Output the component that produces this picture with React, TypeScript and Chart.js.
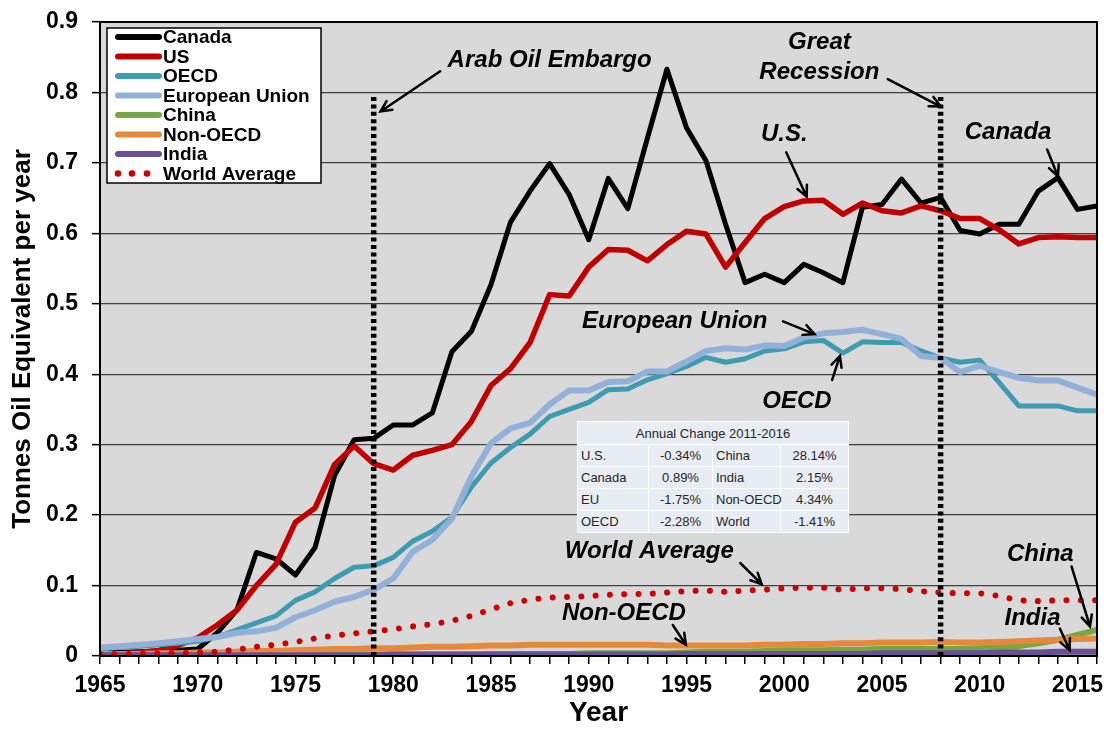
import React, { useEffect, useRef } from 'react';
import { Chart, registerables } from 'chart.js';

Chart.register(...registerables);

const FONT = '"Liberation Sans", Arial, sans-serif';

const years = [
  1965, 1966, 1967, 1968, 1969, 1970, 1971, 1972, 1973, 1974, 1975, 1976, 1977,
  1978, 1979, 1980, 1981, 1982, 1983, 1984, 1985, 1986, 1987, 1988, 1989, 1990,
  1991, 1992, 1993, 1994, 1995, 1996, 1997, 1998, 1999, 2000, 2001, 2002, 2003,
  2004, 2005, 2006, 2007, 2008, 2009, 2010, 2011, 2012, 2013, 2014, 2015, 2016,
];

const canada = [
  0.005, 0.005, 0.006, 0.007, 0.008, 0.01, 0.033, 0.065, 0.147, 0.138, 0.115, 0.154, 0.256,
  0.307, 0.309, 0.328, 0.328, 0.345, 0.432, 0.461, 0.527, 0.616, 0.66, 0.699, 0.655, 0.591,
  0.678, 0.635, 0.735, 0.833, 0.75, 0.703, 0.613, 0.53, 0.542, 0.53, 0.556, 0.544, 0.53,
  0.637, 0.641, 0.677, 0.643, 0.651, 0.604, 0.599, 0.613, 0.613, 0.66, 0.679, 0.634, 0.639,
];

const us = [
  0.002, 0.003, 0.005, 0.008, 0.015, 0.026, 0.044, 0.065, 0.1, 0.13, 0.19, 0.21, 0.272,
  0.298, 0.273, 0.264, 0.285, 0.292, 0.3, 0.333, 0.384, 0.408, 0.445, 0.513, 0.511, 0.552,
  0.577, 0.576, 0.561, 0.584, 0.603, 0.599, 0.552, 0.587, 0.621, 0.638, 0.646, 0.647, 0.627,
  0.643, 0.632, 0.629, 0.639, 0.632, 0.621, 0.621, 0.605, 0.585, 0.594, 0.595, 0.594, 0.594,
];

const oecd = [
  0.01, 0.012, 0.014, 0.016, 0.018, 0.021, 0.027, 0.037, 0.047, 0.057, 0.079, 0.091, 0.11,
  0.126, 0.128, 0.14, 0.163, 0.177, 0.197, 0.24, 0.274, 0.296, 0.315, 0.34, 0.35, 0.36,
  0.378, 0.379, 0.392, 0.401, 0.411, 0.424, 0.417, 0.422, 0.433, 0.436, 0.446, 0.448, 0.43,
  0.446, 0.445, 0.445, 0.433, 0.423, 0.417, 0.42, 0.388, 0.355, 0.355, 0.355, 0.348, 0.348,
];

const eu = [
  0.012, 0.014, 0.016, 0.018, 0.021, 0.024, 0.027, 0.033, 0.035, 0.04, 0.055, 0.065, 0.077,
  0.084, 0.094, 0.11, 0.148, 0.165, 0.195, 0.255, 0.302, 0.323, 0.331, 0.357, 0.377, 0.377,
  0.389, 0.39, 0.404, 0.404, 0.418, 0.433, 0.437, 0.435, 0.441, 0.44, 0.452, 0.458, 0.46,
  0.463, 0.457, 0.45, 0.426, 0.423, 0.403, 0.412, 0.403, 0.395, 0.391, 0.391, 0.381, 0.371,
];

const china = [
  0.001, 0.001, 0.001, 0.001, 0.001, 0.001, 0.001, 0.001, 0.001, 0.001, 0.002, 0.002, 0.002,
  0.002, 0.002, 0.002, 0.002, 0.002, 0.002, 0.002, 0.003, 0.003, 0.003, 0.003, 0.003, 0.004,
  0.004, 0.004, 0.004, 0.004, 0.005, 0.006, 0.006, 0.006, 0.007, 0.008, 0.008, 0.008, 0.009,
  0.009, 0.01, 0.01, 0.01, 0.01, 0.01, 0.011, 0.012, 0.014, 0.018, 0.023, 0.03, 0.037,
];

const nonOecd = [
  0.003, 0.003, 0.003, 0.004, 0.004, 0.005, 0.005, 0.006, 0.007, 0.007, 0.008, 0.009, 0.01,
  0.01, 0.011, 0.011, 0.012, 0.013, 0.013, 0.014, 0.015, 0.015, 0.016, 0.016, 0.016, 0.016,
  0.016, 0.016, 0.016, 0.015, 0.015, 0.015, 0.015, 0.015, 0.016, 0.016, 0.017, 0.017, 0.018,
  0.018, 0.019, 0.019, 0.019, 0.02, 0.019, 0.019, 0.02, 0.021, 0.022, 0.023, 0.024, 0.025,
];

const india = [
  0.001, 0.001, 0.001, 0.001, 0.001, 0.001, 0.001, 0.001, 0.001, 0.001, 0.001, 0.001, 0.001,
  0.001, 0.001, 0.002, 0.002, 0.002, 0.002, 0.002, 0.002, 0.002, 0.002, 0.002, 0.002, 0.002,
  0.002, 0.002, 0.002, 0.002, 0.003, 0.003, 0.003, 0.003, 0.003, 0.003, 0.003, 0.003, 0.003,
  0.003, 0.004, 0.004, 0.004, 0.004, 0.004, 0.004, 0.005, 0.005, 0.005, 0.006, 0.006, 0.006,
];

const worldAverage = [
  0.003, 0.003, 0.003, 0.004, 0.004, 0.005, 0.006, 0.009, 0.013, 0.016, 0.02, 0.025, 0.029,
  0.032, 0.035, 0.038, 0.042, 0.045, 0.05, 0.057, 0.066, 0.075, 0.08, 0.083, 0.084, 0.085,
  0.087, 0.088, 0.088, 0.09, 0.092, 0.093, 0.091, 0.093, 0.094, 0.096, 0.097, 0.097, 0.094,
  0.096, 0.096, 0.095, 0.092, 0.09, 0.089, 0.089, 0.085, 0.079, 0.078, 0.079, 0.079, 0.079,
];

const seriesNames = ['Canada', 'US', 'OECD', 'European Union', 'China', 'Non-OECD', 'India', 'World Average'];
const seriesValues = [canada, us, oecd, eu, china, nonOecd, india, worldAverage];
const seriesColors = ['#000000', '#c00000', '#3f9bb0', '#93b1d8', '#77a742', '#e6893b', '#6a4f95', '#cc0000'];
const seriesWidths = [5, 5.5, 5, 6, 6, 6, 6, 6];

const eventYears = [1979, 2008];
const eventTop = 0.795;

const yTickMax = 0.9;
const xFirstYear = 1965;
const xLastYear = 2016;

const annotationTexts = [
  { text: 'Arab Oil Embargo', x: 1988.0, y: 0.845 },
  { text: 'Great', x: 2001.8, y: 0.8715 },
  { text: 'Recession', x: 2001.8, y: 0.829 },
  { text: 'U.S.', x: 2000.0, y: 0.741 },
  { text: 'Canada', x: 2011.45, y: 0.7435 },
  { text: 'European Union', x: 1994.4, y: 0.475 },
  { text: 'OECD', x: 2000.65, y: 0.361 },
  { text: 'World Average', x: 1993.1, y: 0.148 },
  { text: 'Non-OECD', x: 1991.8, y: 0.0607 },
  { text: 'China', x: 2013.1, y: 0.1436 },
  { text: 'India', x: 2012.7, y: 0.054 },
];

const annotationArrows = [
  { from: [1982.4, 0.83], to: [1979.35, 0.773] },
  { from: [2005.3, 0.819], to: [2008.0, 0.78] },
  { from: [2000.1, 0.715], to: [2001.15, 0.652] },
  { from: [2013.45, 0.719], to: [2014.0, 0.681] },
  { from: [1999.94, 0.475], to: [2001.55, 0.457] },
  { from: [2002.45, 0.392], to: [2002.85, 0.426] },
  { from: [1997.75, 0.132], to: [1998.85, 0.102] },
  { from: [1994.3, 0.044], to: [1994.97, 0.016] },
  { from: [2014.7, 0.127], to: [2015.64, 0.042] },
  { from: [2014.1, 0.039], to: [2014.6, 0.0085] },
];

const tableTitle = 'Annual Change 2011-2016';
const tableRows = [
  ['U.S.', '-0.34%', 'China', '28.14%'],
  ['Canada', '0.89%', 'India', '2.15%'],
  ['EU', '-1.75%', 'Non-OECD', '4.34%'],
  ['OECD', '-2.28%', 'World', '-1.41%'],
];

const overlayPlugin = {
  id: 'overlay',
  beforeDraw(chart: any) {
    const { ctx, chartArea: a } = chart;
    ctx.save();
    ctx.fillStyle = '#d9d9d9';
    ctx.fillRect(a.left, a.top, a.right - a.left, a.bottom - a.top);
    ctx.restore();
  },
  afterDatasetsDraw(chart: any) {
    const { ctx, chartArea: a } = chart;
    const xs = chart.scales.x;
    const ys = chart.scales.y;
    ctx.save();

    // event lines
    ctx.strokeStyle = '#000';
    ctx.lineWidth = 5.5;
    ctx.setLineDash([4, 3.4]);
    ctx.lineCap = 'butt';
    for (const yr of eventYears) {
      const px = xs.getPixelForValue(yr);
      ctx.beginPath();
      ctx.moveTo(px, ys.getPixelForValue(0));
      ctx.lineTo(px, ys.getPixelForValue(eventTop));
      ctx.stroke();
    }
    ctx.setLineDash([]);

    // annotation arrows
    ctx.lineWidth = 2.5;
    ctx.lineCap = 'round';
    for (const ar of annotationArrows) {
      const x1 = xs.getPixelForValue(ar.from[0]);
      const y1 = ys.getPixelForValue(ar.from[1]);
      const x2 = xs.getPixelForValue(ar.to[0]);
      const y2 = ys.getPixelForValue(ar.to[1]);
      ctx.beginPath();
      ctx.moveTo(x1, y1);
      ctx.lineTo(x2, y2);
      const ang = Math.atan2(y2 - y1, x2 - x1);
      const hl = 12;
      const ha = 0.45;
      ctx.moveTo(x2 - hl * Math.cos(ang - ha), y2 - hl * Math.sin(ang - ha));
      ctx.lineTo(x2, y2);
      ctx.lineTo(x2 - hl * Math.cos(ang + ha), y2 - hl * Math.sin(ang + ha));
      ctx.stroke();
    }

    // annotation texts
    ctx.fillStyle = '#000';
    ctx.font = `italic bold 24px ${FONT}`;
    ctx.textAlign = 'center';
    ctx.textBaseline = 'middle';
    for (const t of annotationTexts) {
      ctx.fillText(t.text, xs.getPixelForValue(t.x), ys.getPixelForValue(t.y));
    }

    // frame
    ctx.strokeStyle = '#000';
    ctx.lineWidth = 2;
    ctx.strokeRect(a.left, a.top, a.right - a.left, a.bottom - a.top);

    // legend
    const lx = a.left + 7;
    const ly = a.top + 6;
    const lw = 214;
    const lh = 155;
    ctx.fillStyle = '#ffffff';
    ctx.fillRect(lx, ly, lw, lh);
    ctx.strokeStyle = '#000';
    ctx.lineWidth = 1.5;
    ctx.strokeRect(lx, ly, lw, lh);
    ctx.font = `bold 19px ${FONT}`;
    ctx.textAlign = 'left';
    ctx.textBaseline = 'middle';
    chart.data.datasets.forEach((ds: any, i: number) => {
      const cy = ly + 9 + i * 19.5;
      if (ds.borderDash && ds.borderDash.length) {
        ctx.fillStyle = ds.borderColor;
        for (const dx of [11, 25, 40]) {
          ctx.beginPath();
          ctx.arc(lx + dx, cy, 3.3, 0, Math.PI * 2);
          ctx.fill();
        }
      } else {
        ctx.strokeStyle = ds.borderColor;
        ctx.lineWidth = 6;
        ctx.lineCap = 'round';
        ctx.beginPath();
        ctx.moveTo(lx + 11, cy);
        ctx.lineTo(lx + 52, cy);
        ctx.stroke();
      }
      ctx.fillStyle = '#000';
      ctx.fillText(ds.label, lx + 56, cy + 1);
    });

    ctx.restore();
  },
};

export default function App() {
  const ref = useRef<HTMLCanvasElement>(null);

  useEffect(() => {
    const datasets = seriesNames.map((name, i) => ({
      label: name,
      data: years.map((yr, j) => ({ x: yr, y: seriesValues[i][j] })),
      borderColor: seriesColors[i],
      backgroundColor: seriesColors[i],
      borderWidth: seriesWidths[i],
      pointRadius: 0,
      tension: 0,
      fill: false,
      order: seriesNames.length - 1 - i,
      borderCapStyle: name === 'World Average' ? 'round' : 'butt',
      borderJoinStyle: 'round',
      borderDash: name === 'World Average' ? [0.01, 14.3] : [],
    }));

    const chart = new Chart(ref.current as HTMLCanvasElement, {
      type: 'line',
      data: { datasets } as any,
      plugins: [overlayPlugin],
      options: {
        responsive: false,
        animation: false,
        devicePixelRatio: 1,
        layout: { padding: { left: 0, right: 12, top: 22, bottom: 0 } },
        plugins: { legend: { display: false }, tooltip: { enabled: false } },
        scales: {
          x: {
            type: 'linear',
            min: xFirstYear,
            max: xLastYear,
            afterFit: (s: any) => {
              s.height = 84;
              s.paddingTop = 0;
              s.paddingBottom = 0;
            },
            ticks: {
              stepSize: 1,
              autoSkip: false,
              maxTicksLimit: 200,
              maxRotation: 0,
              minRotation: 0,
              padding: 8,
              color: '#000',
              font: { family: FONT, size: 23, weight: 'bold' },
              callback: (v: any) => (Number(v) % 5 === 0 ? String(v) : ''),
            },
            grid: {
              drawOnChartArea: false,
              drawTicks: true,
              tickLength: 8,
              color: '#000',
              lineWidth: 1.5,
            },
            border: { display: true, color: '#000', width: 2 },
            title: {
              display: true,
              text: 'Year',
              color: '#000',
              font: { family: FONT, size: 28, weight: 'bold' },
              padding: { top: 0, bottom: 10 },
            },
          },
          y: {
            min: 0,
            max: yTickMax,
            afterFit: (s: any) => {
              s.width = 100;
              s.paddingTop = 0;
              s.paddingBottom = 0;
            },
            ticks: {
              stepSize: 0.1,
              padding: 14,
              color: '#000',
              font: { family: FONT, size: 23, weight: 'bold' },
              callback: (v: any) => (Number(v) === 0 ? '0' : Number(v).toFixed(1)),
            },
            grid: {
              color: '#404040',
              lineWidth: 1.3,
              drawTicks: true,
              tickLength: 8,
              tickColor: '#000',
              tickWidth: 1.5,
            },
            border: { display: true, color: '#000', width: 2 },
            title: {
              display: true,
              text: 'Tonnes Oil Equivalent per year',
              color: '#000',
              font: { family: FONT, size: 26, weight: 'bold' },
              padding: { top: 7, bottom: 0 },
            },
          },
        },
      } as any,
    });
    return () => chart.destroy();
  }, []);

  const cellBase: React.CSSProperties = {
    border: '1px solid #ffffff',
    padding: '0 3px',
    height: 21,
    whiteSpace: 'nowrap',
  };
  const colW = [71, 64, 68, 68];

  return (
    <div style={{ position: 'absolute', left: 0, top: 0, width: 1109, height: 740, background: '#fff' }}>
      <canvas ref={ref} width={1109} height={740} style={{ display: 'block', width: 1109, height: 740 }} />
      <table
        style={{
          position: 'absolute',
          left: 577,
          top: 421,
          width: 271,
          borderCollapse: 'collapse',
          background: '#e8edf3',
          fontFamily: FONT,
          fontSize: 13,
          color: '#262626',
          tableLayout: 'fixed',
        }}
      >
        <colgroup>
          {colW.map((w, i) => (
            <col key={i} style={{ width: w }} />
          ))}
        </colgroup>
        <tbody>
          <tr>
            <td colSpan={4} style={{ ...cellBase, textAlign: 'center', height: 22 }}>
              {tableTitle}
            </td>
          </tr>
          {tableRows.map((r, i) => (
            <tr key={i}>
              <td style={{ ...cellBase, textAlign: 'left' }}>{r[0]}</td>
              <td style={{ ...cellBase, textAlign: 'center' }}>{r[1]}</td>
              <td style={{ ...cellBase, textAlign: 'left' }}>{r[2]}</td>
              <td style={{ ...cellBase, textAlign: 'center' }}>{r[3]}</td>
            </tr>
          ))}
        </tbody>
      </table>
    </div>
  );
}
